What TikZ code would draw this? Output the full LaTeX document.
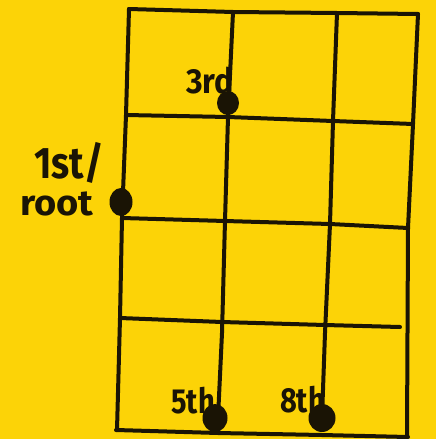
\documentclass[tikz,border=0pt]{standalone}
\usepackage{fontspec}
\setmainfont{Fira Sans}
\definecolor{bg}{HTML}{FCD307}
\definecolor{ink}{HTML}{1A1405}
\usetikzlibrary{shapes.geometric}
\tikzset{
  gridline/.style={draw=ink, line width=4pt, line cap=round, line join=round},
  dot/.style={ellipse, fill=ink, inner sep=0pt},
  lbl/.style={text=ink, inner sep=0pt, font=\fontsize{29}{30}\bfseries\selectfont},
  biglbl/.style={text=ink, inner sep=0pt, font=\fontsize{34}{36}\bfseries\selectfont}
}
\begin{document}
\begin{tikzpicture}[x=1pt,y=-1pt]
\fill[bg] (0,0) rectangle (436,439);
\useasboundingbox (0,0) rectangle (436,439);
% horizontal lines
\draw[gridline] (129,9) -- (233,12) -- (337,13) -- (418,14);
\draw[gridline] (126,115) -- (228,117) -- (333,121) -- (413,124);
\draw[gridline] (122,218) -- (225,221) -- (330,224) -- (408,228);
\draw[gridline] (120,318) -- (222,322) -- (325,325) -- (400,327);
\draw[gridline] (116,430) -- (218,433) -- (322,435) -- (408,437);
% vertical lines
\draw[gridline] (129,9) -- (126,115) -- (122,218) -- (120,318) -- (117,430);
\draw[gridline] (233,12) -- (228,117) -- (225,221) -- (222,333) -- (218,418);
\draw[gridline] (337,13) -- (333,121) -- (330,224) -- (325,333) -- (322,418);
\draw[gridline] (418,14) -- (413,124) -- (408,228) -- (407,436);
% dots
\node[dot, minimum width=22pt, minimum height=24pt] (third) at (228,103) {};
\node[dot, minimum width=23pt, minimum height=28pt] (root) at (121,202) {};
\node[dot, minimum width=25pt, minimum height=28pt] (fifth) at (215,418) {};
\node[dot, minimum width=27pt, minimum height=28pt] (eighth) at (322,418) {};
% labels
\node[lbl, anchor=south east] (l3) at (234,94) {\scalebox{1.1}[1.2]{3rd}};
\node[biglbl, anchor=south west] (l1a) at (34,184) {\scalebox{1.1}[1.3]{1st/}};
\node[biglbl, anchor=south west] (l1b) at (20,216) {\scalebox{1.12}[1.05]{root}};
\node[lbl, anchor=south east] (l5) at (215,414) {\scalebox{1.0}[1.2]{5th}};
\node[lbl, anchor=south east] (l8) at (325,413) {\scalebox{1.0}[1.2]{8th}};
\end{tikzpicture}
\end{document}
